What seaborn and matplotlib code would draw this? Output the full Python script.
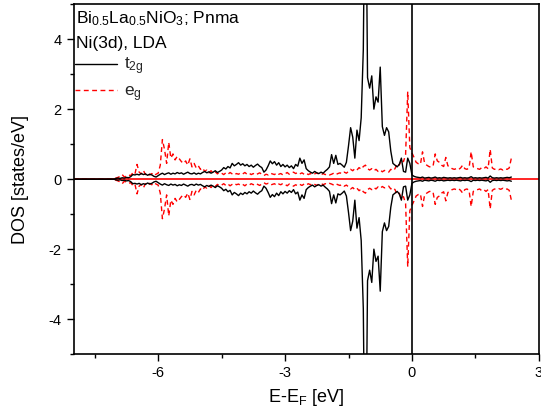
import numpy as np
import pandas as pd
import matplotlib
matplotlib.use("Agg")
import matplotlib.pyplot as plt
from matplotlib.ticker import MultipleLocator
from matplotlib.lines import Line2D
import seaborn as sns

# energy grid (eV relative to E_F), 0.05 eV step
energy = np.round(np.arange(-8.0, 2.351, 0.05), 2)

# Ni t2g DOS (spin up; spin down is the mirror image)
t2g = [
    0, 0, 0, 0, 0, 0, 0, 0, 0, 0,
    0, 0, 0, 0, 0, 0, 0, 0, 0, 0,
    0.02, 0.03, 0.02, 0.04, 0.03, 0.05, 0.04, 0.07, 0.13, 0.12,
    0.14, 0.12, 0.16, 0.13, 0.15, 0.11, 0.14, 0.12, 0.08, 0.06,
    0.10, 0.14, 0.17, 0.13, 0.16, 0.18, 0.14, 0.17, 0.15, 0.19,
    0.16, 0.18, 0.14, 0.17, 0.20, 0.16, 0.15, 0.18, 0.14, 0.17,
    0.15, 0.19, 0.22, 0.18, 0.21, 0.17, 0.20, 0.24, 0.19, 0.22,
    0.26, 0.33, 0.29, 0.36, 0.32, 0.45, 0.38, 0.42, 0.47, 0.40,
    0.44, 0.38, 0.42, 0.36, 0.40, 0.34, 0.39, 0.43, 0.37, 0.33,
    0.20, 0.26, 0.38, 0.52, 0.44, 0.50, 0.40, 0.47, 0.36, 0.42,
    0.35, 0.40, 0.33, 0.38, 0.30, 0.42, 0.37, 0.60, 0.45, 0.55,
    0.30, 0.24, 0.20, 0.17, 0.22, 0.18, 0.16, 0.20, 0.17, 0.23,
    0.28, 0.35, 0.70, 0.45, 0.68, 0.42, 0.45, 0.40, 0.34, 0.48,
    0.95, 1.47, 1.20, 0.60, 1.40, 1.10, 1.75, 3.70, 10.0, 2.90,
    2.60, 2.95, 2.00, 2.35, 2.20, 3.20, 1.50, 1.25, 1.47, 1.35,
    0.80, 0.45, 0.40, 0.35, 0.42, 0.60, 0.22, 0.20, 0.60, 0.45,
    0.12, 0.08, 0.06, 0.05, 0.04, 0.06, 0.03, 0.04, 0.05, 0.03,
    0.04, 0.06, 0.03, 0.04, 0.03, 0.05, 0.04, 0.03, 0.04, 0.03,
    0.04, 0.03, 0.04, 0.05, 0.03, 0.04, 0.03, 0.04, 0.07, 0.03,
    0.04, 0.03, 0.04, 0.03, 0.04, 0.05, 0.03, 0.09, 0.04, 0.03,
    0.04, 0.03, 0.04, 0.03, 0.04, 0.05, 0.04, 0.06,
]

# Ni eg DOS (spin up)
eg = [
    0, 0, 0, 0, 0, 0, 0, 0, 0, 0,
    0, 0, 0, 0, 0, 0, 0, 0, 0, 0,
    0.03, 0.05, 0.08, 0.13, 0.06, 0.09, 0.12, 0.10, 0.18, 0.14,
    0.42, 0.20, 0.15, 0.25, 0.13, 0.18, 0.12, 0.16, 0.10, 0.14,
    0.17, 0.40, 1.13, 0.85, 0.45, 1.05, 0.60, 0.72, 0.55, 0.65,
    0.58, 0.50, 0.45, 0.52, 0.40, 0.58, 0.35, 0.45, 0.32, 0.38,
    0.28, 0.32, 0.22, 0.26, 0.18, 0.24, 0.17, 0.21, 0.15, 0.19,
    0.17, 0.13, 0.18, 0.14, 0.19, 0.15, 0.12, 0.16, 0.14, 0.18,
    0.15, 0.19, 0.14, 0.17, 0.13, 0.16, 0.12, 0.15, 0.18, 0.14,
    0.10, 0.14, 0.12, 0.17, 0.15, 0.13, 0.18, 0.14, 0.16, 0.12,
    0.15, 0.19, 0.14, 0.17, 0.20, 0.16, 0.19, 0.15, 0.18, 0.14,
    0.17, 0.13, 0.16, 0.12, 0.15, 0.18, 0.14, 0.12, 0.16, 0.13,
    0.15, 0.12, 0.14, 0.17, 0.13, 0.16, 0.18, 0.15, 0.20, 0.17,
    0.22, 0.28, 0.24, 0.30, 0.26, 0.33, 0.28, 0.36, 0.40, 0.30,
    0.26, 0.30, 0.24, 0.28, 0.22, 0.26, 0.21, 0.25, 0.22, 0.20,
    0.28, 0.24, 0.30, 0.45, 0.40, 0.55, 0.50, 0.70, 2.50, 0.90,
    0.75, 0.62, 0.48, 0.44, 0.42, 0.78, 0.45, 0.40, 0.36, 0.34,
    0.38, 0.72, 0.52, 0.48, 0.40, 0.36, 0.62, 0.38, 0.35, 0.30,
    0.28, 0.30, 0.27, 0.32, 0.40, 0.30, 0.28, 0.32, 0.78, 0.35,
    0.32, 0.30, 0.28, 0.33, 0.30, 0.35, 0.30, 0.85, 0.32, 0.28,
    0.30, 0.27, 0.29, 0.26, 0.30, 0.28, 0.32, 0.60,
]

sns.set_theme(style="ticks")
plt.rcParams["font.family"] = ["Liberation Sans", "DejaVu Sans"]
plt.rcParams["mathtext.fontset"] = "custom"
plt.rcParams["mathtext.rm"] = "Liberation Sans"
plt.rcParams["mathtext.it"] = "Liberation Sans:italic"
plt.rcParams["axes.unicode_minus"] = False

rows = []
for name, vals in [("t2g", t2g), ("eg", eg)]:
    for e, v in zip(energy, vals):
        rows.append({"energy": e, "dos": v, "orbital": name, "spin": "up"})
        rows.append({"energy": e, "dos": -v, "orbital": name, "spin": "down"})
df = pd.DataFrame(rows)

fig = plt.figure(figsize=(5.41, 4.09), dpi=100)
ax = fig.add_axes([0.136, 0.134, 0.860, 0.856])

ax.axhline(0, color="red", lw=1.2, zorder=1)
ax.axvline(0, color="black", lw=1.2, zorder=4)

colors = {"t2g": "black", "eg": "red"}
for name in ["eg", "t2g"]:
    for spin in ["up", "down"]:
        sub = df[(df["orbital"] == name) & (df["spin"] == spin)]
        sns.lineplot(data=sub, x="energy", y="dos", ax=ax, color=colors[name],
                     lw=1.0, estimator=None, sort=False, legend=False,
                     linestyle="--" if name == "eg" else "-",
                     zorder=3 if name == "t2g" else 2)
for l in ax.lines:
    if l.get_linestyle() == "--":
        l.set_dashes((3.5, 2.5))

ax.set_xlim(-8, 3)
ax.set_ylim(-5, 5)
ax.xaxis.set_major_locator(MultipleLocator(3))
ax.xaxis.set_minor_locator(MultipleLocator(1.5))
ax.yaxis.set_major_locator(MultipleLocator(2))
ax.yaxis.set_minor_locator(MultipleLocator(1))
ax.tick_params(which="both", direction="out", top=False, right=False,
               labelsize=10.5, width=1, color="black", labelcolor="black")
ax.tick_params(which="major", length=5)
ax.tick_params(which="minor", length=3)
for s in ax.spines.values():
    s.set_visible(True)
    s.set_color("black")
    s.set_linewidth(1.2)

ax.set_xlabel(r"E-E$_\mathregular{F}$ [eV]", fontsize=13, color="black", labelpad=5)
ax.set_ylabel("DOS [states/eV]", fontsize=13, color="black", labelpad=14)

ax.text(0.006, 0.985, r"Bi$_\mathregular{0.5}$La$_\mathregular{0.5}$NiO$_\mathregular{3}$; Pnma",
        transform=ax.transAxes, fontsize=12.5, va="top", ha="left", color="black")
ax.text(0.006, 0.91, "Ni(3d), LDA", transform=ax.transAxes, fontsize=12.5,
        va="top", ha="left", color="black")

handles = [Line2D([], [], color="black", lw=1.0),
           Line2D([], [], color="red", lw=1.0, dashes=(3.5, 2.5))]
ax.legend(handles, [r"t$_\mathregular{2g}$", r"e$_\mathregular{g}$"],
          loc="upper left", bbox_to_anchor=(-0.012, 0.872), frameon=False,
          fontsize=12.5, handlelength=2.4, handletextpad=0.4, labelspacing=0.4,
          borderaxespad=0.0)

fig.savefig("out.png", dpi=100)
